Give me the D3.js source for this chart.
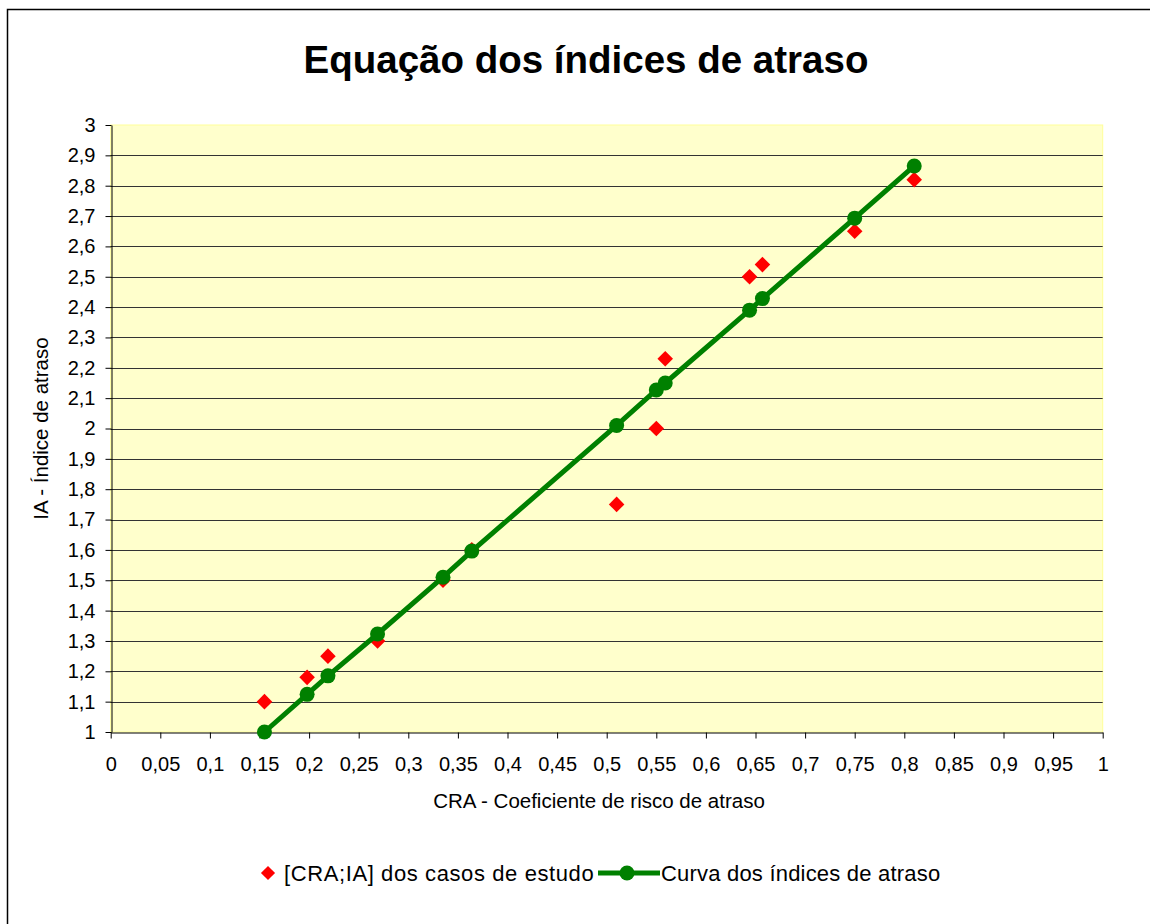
<!DOCTYPE html>
<html>
<head>
<meta charset="utf-8">
<script src="https://cdn.jsdelivr.net/npm/d3@7"></script>
<style>
  body { margin: 0; background: #fff; }
  text { font-family: Arial, "Liberation Sans", sans-serif; }
</style>
</head>
<body>
<div id="container"></div>
<script>
// Case study points [CRA;IA]
const casosCRA = [0.155, 0.198, 0.219, 0.269, 0.335, 0.364, 0.510, 0.550, 0.559, 0.644, 0.657, 0.750, 0.810];
const casosIA  = [1.10, 1.18, 1.25, 1.30, 1.50, 1.60, 1.75, 2.00, 2.23, 2.50, 2.54, 2.65, 2.82];

// Fitted curve of delay indices
const curvaCRA = [0.155, 0.198, 0.219, 0.269, 0.335, 0.364, 0.510, 0.550, 0.559, 0.644, 0.657, 0.750, 0.810];
const curvaIA  = [1.00, 1.124, 1.185, 1.323, 1.51, 1.596, 2.01, 2.127, 2.15, 2.39, 2.428, 2.693, 2.865];

const xTicks = d3.range(0, 21).map(i => i * 0.05);
const yTicks = d3.range(0, 21).map(i => 1 + i * 0.1);

const width = 1150;
const height = 924;
const margin = { top: 125, right: 47.3, bottom: 192, left: 110.7 };
const font = "Arial, 'Liberation Sans', sans-serif";

const fmt = v => (+v.toFixed(2)).toString().replace(".", ",");

const svg = d3.select("#container").append("svg")
  .attr("width", width)
  .attr("height", height);

// outer frame
svg.append("rect")
  .attr("x", 7.5).attr("y", 9.5)
  .attr("width", 1200).attr("height", 1000)
  .attr("fill", "none")
  .attr("stroke", "#000")
  .attr("stroke-width", 1.5);

const x = d3.scaleLinear()
  .domain([0, 1])
  .range([margin.left, width - margin.right]);

const y = d3.scaleLinear()
  .domain([1, 3])
  .range([height - margin.bottom, margin.top]);

// plot background
svg.append("rect")
  .attr("x", x(0)).attr("y", y(3))
  .attr("width", x(1) - x(0))
  .attr("height", y(1) - y(3))
  .attr("fill", "#FFFFCC")
  .attr("stroke", "#FFFF99")
  .attr("stroke-width", 1);

// horizontal gridlines
svg.append("g")
  .selectAll("line")
  .data(yTicks.slice(1, -1))
  .join("line")
  .attr("x1", x(0)).attr("x2", x(1))
  .attr("y1", d => Math.round(y(d)) + 0.5)
  .attr("y2", d => Math.round(y(d)) + 0.5)
  .attr("stroke", "#333")
  .attr("stroke-width", 1);

// axes
const xAxis = svg.append("g")
  .attr("transform", `translate(0,${Math.round(y(1)) + 0.5})`)
  .call(d3.axisBottom(x).tickValues(xTicks).tickFormat(fmt).tickSize(6).tickSizeOuter(0).tickPadding(18))
  .attr("font-family", font)
  .attr("font-size", 20);
xAxis.select(".domain").attr("stroke", "#000");
xAxis.selectAll("text").attr("fill", "#000");

const yAxis = svg.append("g")
  .attr("transform", `translate(${Math.round(x(0)) + 0.5},0)`)
  .call(d3.axisLeft(y).tickValues(yTicks).tickFormat(fmt).tickSize(6).tickSizeOuter(0).tickPadding(10))
  .attr("font-family", font)
  .attr("font-size", 20);
yAxis.select(".domain").attr("stroke", "#000");
yAxis.selectAll("text").attr("fill", "#000");

// curve
const curva = curvaCRA.map((c, i) => ({ cra: c, ia: curvaIA[i] }));
const casos = casosCRA.map((c, i) => ({ cra: c, ia: casosIA[i] }));

const line = d3.line()
  .x(d => x(d.cra))
  .y(d => y(d.ia));

const diamond = d3.symbol().type(d3.symbolSquare).size(11 * 11);

// red diamonds drawn first, green curve on top
svg.append("g")
  .selectAll("path")
  .data(casos)
  .join("path")
  .attr("d", diamond)
  .attr("transform", d => `translate(${x(d.cra)},${y(d.ia)}) rotate(45)`)
  .attr("fill", "#FF0000");

svg.append("path")
  .datum(curva)
  .attr("fill", "none")
  .attr("stroke", "#008000")
  .attr("stroke-width", 5)
  .attr("d", line);

svg.append("g")
  .selectAll("circle")
  .data(curva)
  .join("circle")
  .attr("cx", d => x(d.cra))
  .attr("cy", d => y(d.ia))
  .attr("r", 7.5)
  .attr("fill", "#008000");

// title
svg.append("text")
  .attr("x", 586)
  .attr("y", 73)
  .attr("text-anchor", "middle")
  .attr("font-size", 38.5)
  .attr("font-weight", "bold")
  .text("Equação dos índices de atraso");

// axis titles
svg.append("text")
  .attr("x", 599)
  .attr("y", 808)
  .attr("text-anchor", "middle")
  .attr("font-size", 20.5)
  .text("CRA - Coeficiente de risco de atraso");

svg.append("text")
  .attr("transform", `translate(48,${(y(1) + y(3)) / 2}) rotate(-90)`)
  .attr("text-anchor", "middle")
  .attr("font-size", 20.5)
  .text("IA - Índice de atraso");

// legend
const legend = svg.append("g").attr("transform", "translate(0,873)");
legend.append("path")
  .attr("d", d3.symbol().type(d3.symbolSquare).size(10 * 10))
  .attr("transform", "translate(268,0) rotate(45)")
  .attr("fill", "#FF0000");
legend.append("text")
  .attr("x", 284).attr("y", 8)
  .attr("font-size", 22)
  .attr("letter-spacing", 0.6)
  .text("[CRA;IA] dos casos de estudo");
legend.append("line")
  .attr("x1", 598).attr("x2", 660)
  .attr("y1", 0).attr("y2", 0)
  .attr("stroke", "#008000").attr("stroke-width", 5);
legend.append("circle")
  .attr("cx", 627).attr("cy", 0).attr("r", 7.5)
  .attr("fill", "#008000");
legend.append("text")
  .attr("x", 661).attr("y", 8)
  .attr("font-size", 22)
  .attr("letter-spacing", 0.2)
  .text("Curva dos índices de atraso");
</script>
</body>
</html>
